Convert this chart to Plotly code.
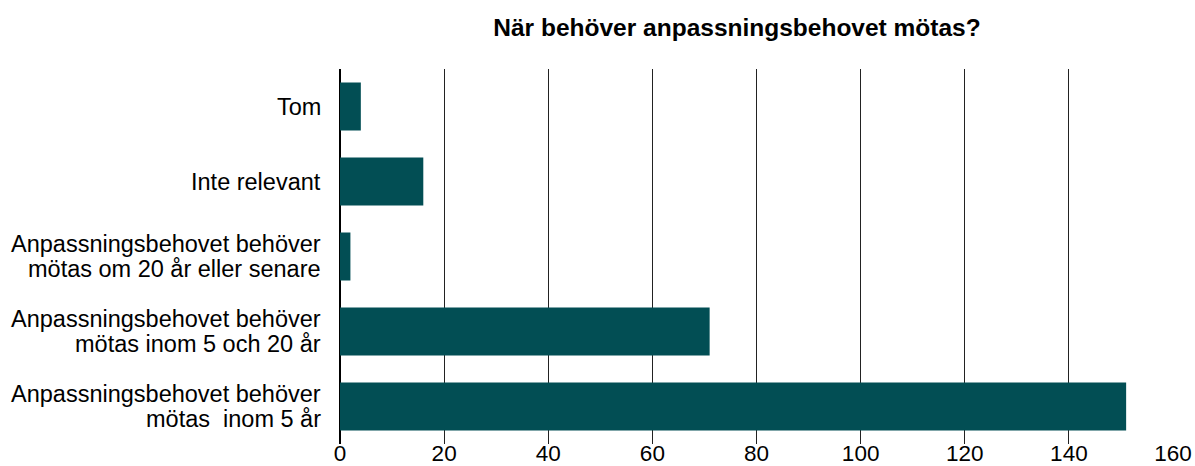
import plotly.graph_objects as go

categories = ["Tom", "Inte relevant", "Om 20 år eller senare", "Inom 5 och 20 år", "Inom 5 år"]
label_lines = [
    ["Tom"],
    ["Inte relevant"],
    ["Anpassningsbehovet behöver", "mötas om 20 år eller senare"],
    ["Anpassningsbehovet behöver", "mötas inom 5 och 20 år"],
    ["Anpassningsbehovet behöver", "mötas\u00a0\u00a0inom 5 år"],
]
values = [4, 16, 2, 71, 151]
x_ticks = [0, 20, 40, 60, 80, 100, 120, 140, 160]

FONT = "Liberation Sans, Arial, sans-serif"

fig = go.Figure(go.Bar(
    x=values, y=categories, orientation="h",
    marker=dict(color="#024E54", line=dict(width=0)),
    width=0.64,
))

annotations = []
line_gap = 25
for cat, lines in zip(categories, label_lines):
    n = len(lines)
    for i, ln in enumerate(lines):
        shift = ((n - 1) / 2 - i) * line_gap
        annotations.append(dict(
            text=ln, x=0, xref="paper", y=cat, yref="y",
            xanchor="right", yanchor="middle", xshift=-17, yshift=shift,
            showarrow=False, font=dict(family=FONT, size=23.5, color="#000"),
        ))

fig.update_layout(
    width=1195, height=466,
    margin=dict(l=340, r=22, t=69, b=22, autoexpand=False),
    paper_bgcolor="white", plot_bgcolor="white",
    font=dict(family=FONT, size=22.5, color="#000"),
    title=dict(text="<b>När behöver anpassningsbehovet mötas?</b>",
               x=737 / 1195, xref="container", y=1 - 27 / 466, yref="container",
               xanchor="center", yanchor="middle",
               font=dict(family=FONT, size=24.5, color="#000")),
    showlegend=False,
    annotations=annotations,
)
fig.update_xaxes(
    range=[0, 160], tickvals=x_ticks, showgrid=True, gridcolor="#222", gridwidth=1,
    zeroline=True, zerolinecolor="#000", zerolinewidth=1.5,
    showline=False, ticks="", tickfont=dict(size=22.5), automargin=False,
    ticklabelstandoff=-7,
)
fig.update_yaxes(
    autorange="reversed", showgrid=False, showline=False, ticks="",
    showticklabels=False, automargin=False,
)

fig.write_html("out.html", config={"displayModeBar": False},
               post_script="document.body.style.margin='0';")
